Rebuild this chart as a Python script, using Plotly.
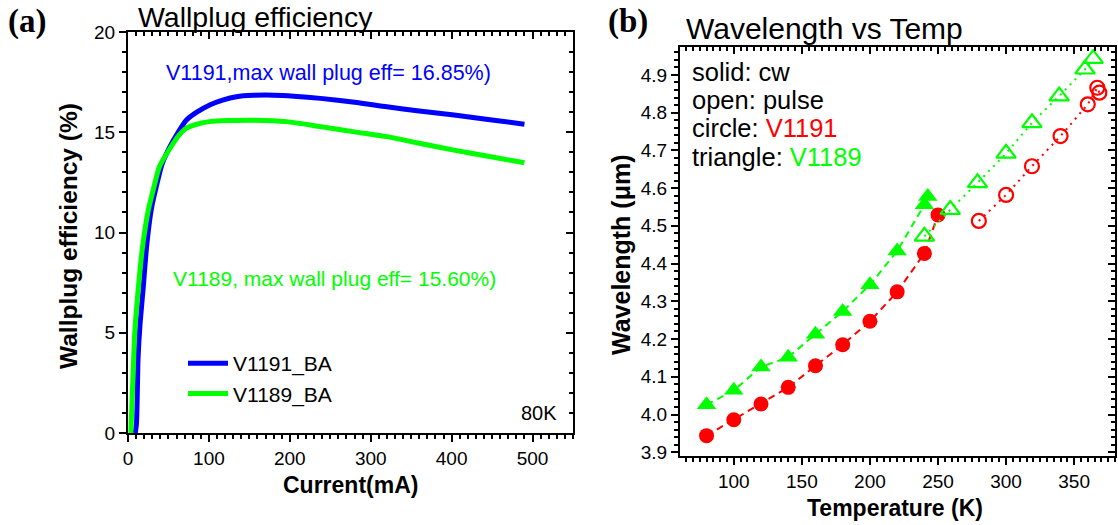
import plotly.graph_objects as go

# ---- Panel (a): wall-plug efficiency vs current (80K) ----
cur_v1191 = [9, 10.5, 12.5, 15, 18.5, 23, 29, 35, 42, 52, 62, 72, 85, 101, 117, 134, 155, 180, 205, 238, 280, 320, 360, 403, 445, 490]
eff_v1191 = [0, 0.5, 3.8, 5.5, 7.1, 9.3, 11.2, 12.3, 13.4, 14.3, 15.0, 15.6, 16.0, 16.36, 16.6, 16.77, 16.84, 16.85, 16.8, 16.69, 16.5, 16.27, 16.06, 15.86, 15.64, 15.40]
cur_v1189 = [3.5, 5.5, 8.5, 12.5, 18, 25, 31, 39, 52, 62, 72, 85, 101, 125, 155, 196, 238, 280, 320, 360, 403, 445, 490]
eff_v1189 = [0, 2.1, 5.1, 7.1, 9.3, 11.1, 12.1, 13.3, 14.2, 14.8, 15.2, 15.4, 15.53, 15.58, 15.60, 15.53, 15.28, 15.02, 14.78, 14.45, 14.11, 13.8, 13.48]

# ---- Panel (b): wavelength vs temperature ----
t_v1191_cw = [80, 100, 120, 140, 160, 180, 200, 220, 240, 250]
wl_v1191_cw = [3.944, 3.986, 4.028, 4.072, 4.129, 4.185, 4.247, 4.325, 4.427, 4.529]
t_v1189_cw = [80, 100, 120, 140, 160, 180, 200, 220, 240, 242.5]
wl_v1189_cw = [4.026, 4.064, 4.126, 4.152, 4.213, 4.273, 4.344, 4.433, 4.556, 4.578]
t_v1191_pulse = [280, 300, 319, 340, 360, 367, 368.5]
wl_v1191_pulse = [4.513, 4.582, 4.658, 4.738, 4.822, 4.866, 4.853]
t_v1189_pulse = [240, 259, 279, 300, 319, 339, 358, 364]
wl_v1189_pulse = [4.472, 4.543, 4.614, 4.692, 4.773, 4.844, 4.915, 4.943]

BLUE = "#0000ff"
GREEN = "#00ff00"
RED = "#ff0000"
W, H = 1118, 525
FONT = "Liberation Sans, Arial, sans-serif"

def px(x):
    return x / W

def py(y):
    return 1 - y / H

fig = go.Figure()

# Panel (a) traces: V1191 on main axes, V1189 on the mirrored (top/right) axes of identical range
fig.add_trace(go.Scatter(x=cur_v1191, y=eff_v1191, mode="lines", name="V1191_BA",
                         line=dict(color=BLUE, width=5, shape="spline", smoothing=0.6),
                         xaxis="x", yaxis="y"))
fig.add_trace(go.Scatter(x=cur_v1189, y=eff_v1189, mode="lines", name="V1189_BA",
                         line=dict(color=GREEN, width=5, shape="spline", smoothing=0.6),
                         xaxis="x3", yaxis="y3"))

# Panel (b): cw on main axes, pulse on mirrored axes of identical range
fig.add_trace(go.Scatter(x=t_v1191_cw, y=wl_v1191_cw, mode="lines+markers", showlegend=False,
                         line=dict(color=RED, width=2, dash="7px,5px"),
                         marker=dict(symbol="circle", size=15, color=RED),
                         xaxis="x2", yaxis="y2"))
fig.add_trace(go.Scatter(x=t_v1189_cw, y=wl_v1189_cw, mode="lines+markers", showlegend=False,
                         line=dict(color=GREEN, width=2, dash="7px,5px"),
                         marker=dict(symbol="triangle-up", size=17, color=GREEN),
                         xaxis="x2", yaxis="y2"))
fig.add_trace(go.Scatter(x=t_v1191_pulse, y=wl_v1191_pulse, mode="lines+markers", showlegend=False,
                         line=dict(color=RED, width=2, dash="2px,5px"),
                         marker=dict(symbol="circle-open", size=14, color=RED, line=dict(width=2.2)),
                         xaxis="x4", yaxis="y4"))
fig.add_trace(go.Scatter(x=t_v1189_pulse, y=wl_v1189_pulse, mode="lines+markers", showlegend=False,
                         line=dict(color=GREEN, width=2, dash="2px,5px"),
                         marker=dict(symbol="triangle-up-open", size=17, color=GREEN, line=dict(width=2.2)),
                         xaxis="x4", yaxis="y4"))

tickfont = dict(family=FONT, size=19, color="black")

def base_axis(rng, dtick, mdtick, domain=None, side=None, ticks="outside", labels=True, **kw):
    d = dict(range=rng, dtick=dtick, tick0=0, showgrid=False, zeroline=False,
             showline=True, linecolor="black", linewidth=2, automargin=False,
             ticks=ticks, ticklen=7, tickwidth=2, tickcolor="black",
             minor=dict(dtick=mdtick, ticks=ticks, ticklen=4, tickwidth=1.5, tickcolor="black", showgrid=False),
             showticklabels=labels, tickfont=tickfont)
    if domain is not None:
        d["domain"] = domain
    if side is not None:
        d["side"] = side
    d.update(kw)
    return d

xa_dom = [px(128), px(573)]
ya_dom = [py(433), py(32)]
xb_dom = [px(680), px(1115)]
yb_dom = [py(456), py(47)]

fig.update_layout(
    width=W, height=H, autosize=False,
    margin=dict(l=0, r=0, t=0, b=0, pad=0),
    paper_bgcolor="white", plot_bgcolor="white",
    font=dict(family=FONT, color="black"),
    xaxis=base_axis([0, 550], 100, 10, domain=xa_dom, anchor="y"),
    yaxis=base_axis([0, 20], 5, 1, domain=ya_dom, anchor="x"),
    xaxis3=base_axis([0, 550], 100, 10, side="top", ticks="inside", labels=False, overlaying="x", anchor="y3"),
    yaxis3=base_axis([0, 20], 5, 1, side="right", ticks="inside", labels=False, overlaying="y", anchor="x3"),
    xaxis2=base_axis([60.5, 380], 50, 5, domain=xb_dom, anchor="y2"),
    yaxis2=base_axis([3.89, 4.974], 0.1, 0.02, domain=yb_dom, anchor="x2", tickformat=".1f"),
    xaxis4=base_axis([60.5, 380], 50, 5, side="top", ticks="inside", labels=False, overlaying="x2", anchor="y4"),
    yaxis4=base_axis([3.89, 4.974], 0.1, 0.02, side="right", ticks="inside", labels=False, overlaying="y2", anchor="x4"),
    showlegend=True,
    legend=dict(x=px(183), y=py(343), xanchor="left", yanchor="top",
                bgcolor="rgba(0,0,0,0)", font=dict(family=FONT, size=21, color="black"),
                tracegroupgap=0, itemwidth=40),
)

def ann(text, x, y, size, color="black", xanchor="left", bold=False, family=FONT, angle=0):
    if bold:
        text = "<b>" + text + "</b>"
    fig.add_annotation(text=text, x=px(x), y=py(y), xref="paper", yref="paper",
                       xanchor=xanchor, yanchor="middle", showarrow=False, textangle=angle,
                       font=dict(family=family, size=size, color=color))

SERIF = "Liberation Serif, Times New Roman, serif"
ann("(a)", 6, 22, 33, bold=True, family=SERIF)
ann("(b)", 606, 22, 33, bold=True, family=SERIF)
ann("Wallplug efficiency", 136, 17, 28.5)
ann("Wavelength vs Temp", 684, 28, 30)

ann("V1191,max wall plug eff= 16.85%)", 164, 73, 21.5, color=BLUE)
ann("V1189, max wall plug eff= 15.60%)", 171, 278, 21, color=GREEN)
ann("80K", 559, 413, 20, xanchor="right")

ann("Current(mA)", 350, 485, 23, xanchor="center", bold=True)
ann("Wallplug efficiency (%)", 68, 236, 24.5, xanchor="center", bold=True, angle=-90)
ann("Temperature (K)", 895, 508, 23, xanchor="center", bold=True)
ann("Wavelength (\u03bcm)", 621, 255, 25, xanchor="center", bold=True, angle=-90)

ann("solid: cw", 690, 72, 25.5)
ann("open: pulse", 690, 100, 25.5)
ann("circle: <span style='color:#ff0000'>V1191</span>", 690, 128, 25.5)
ann("triangle: <span style='color:#00ff00'>V1189</span>", 690, 157, 25.5)

fig.write_html("out.html", config={"displayModeBar": False},
               post_script="document.body.style.margin='0px';document.body.style.overflow='hidden';")
